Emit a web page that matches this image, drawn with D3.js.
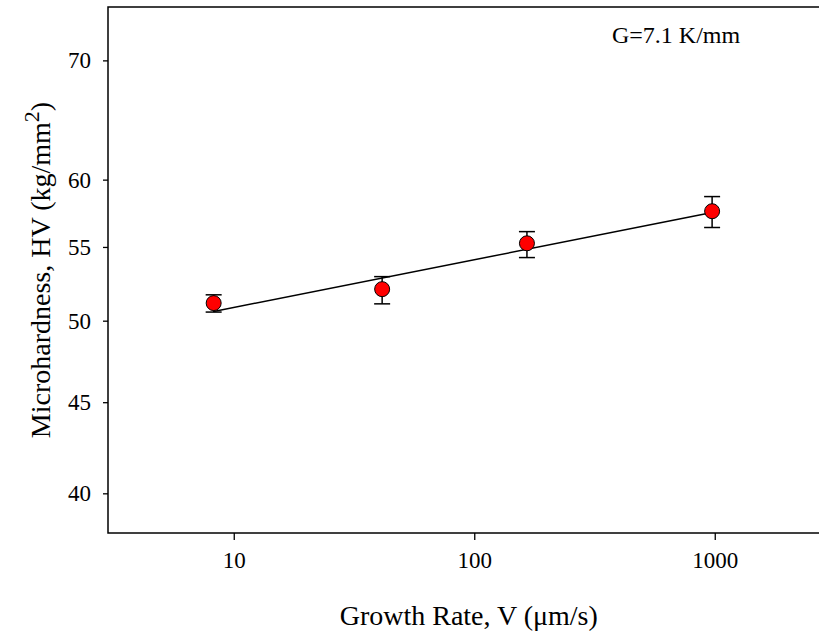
<!DOCTYPE html>
<html>
<head>
<meta charset="utf-8">
<script src="https://cdn.jsdelivr.net/npm/d3@7"></script>
<style>
  html, body { margin: 0; padding: 0; background: #fff; }
  svg { display: block; }
  text { font-family: "Liberation Serif", "Times New Roman", serif; fill: #000; }
</style>
</head>
<body>
<svg id="chart" width="819" height="635"></svg>
<script>
// ---- data ----
const growthRate = [8.25, 41.4, 165.6, 975];          // V (µm/s)
const hardness   = [51.15, 52.08, 55.26, 57.6];       // HV (kg/mm^2)
const errLow     = [50.56, 51.1, 54.25, 56.4];
const errHigh    = [51.7, 52.93, 56.1, 58.7];
const fitX       = [8.25, 975];
const fitY       = [50.6, 57.5];
const xTicks     = [10, 100, 1000];
const yTicks     = [40, 45, 50, 55, 60, 70];

const svg = d3.select("#chart");
const mLeft = 108, mTop = 7, mBottom = 533, mRight = 829.5;

const x = d3.scaleLog().domain([3, 3000]).range([mLeft, mRight]);
const y = d3.scaleLog().domain([38, 75]).range([mBottom, mTop]);

// frame (top, left, bottom; right edge lies outside the picture)
svg.append("rect").attr("x", mLeft).attr("y", mTop).attr("width", mRight - mLeft).attr("height", mBottom - mTop)
  .attr("stroke", "#000").attr("stroke-width", 1.5).attr("fill", "none");

// x axis
const xAxis = d3.axisBottom(x).tickValues(xTicks).tickFormat(d3.format("d")).tickSize(7).tickPadding(12);
const gx = svg.append("g").attr("transform", `translate(0,${mBottom})`).call(xAxis);
gx.select(".domain").remove();
gx.selectAll(".tick line").attr("stroke", "#000").attr("stroke-width", 1.3);
gx.selectAll(".tick text").attr("font-size", 23).attr("font-family", "Liberation Serif");

// y axis
const yAxis = d3.axisLeft(y).tickValues(yTicks).tickFormat(d3.format("d")).tickSize(5).tickPadding(12);
const gy = svg.append("g").attr("transform", `translate(${mLeft},0)`).call(yAxis);
gy.select(".domain").remove();
gy.selectAll(".tick line").attr("stroke", "#000").attr("stroke-width", 1.3);
gy.selectAll(".tick text").attr("font-size", 23).attr("font-family", "Liberation Serif");

// fit line
const line = d3.line().x((d, i) => x(fitX[i])).y((d, i) => y(fitY[i]));
svg.append("path").datum(fitX).attr("d", line)
  .attr("stroke", "#000").attr("stroke-width", 1.5).attr("fill", "none");

// error bars
const pts = growthRate.map((v, i) => ({ v, h: hardness[i], lo: errLow[i], hi: errHigh[i] }));
const eb = svg.append("g").attr("stroke", "#000").attr("stroke-width", 1.5);
const capW = 8;
pts.forEach(p => {
  eb.append("line").attr("x1", x(p.v)).attr("x2", x(p.v)).attr("y1", y(p.lo)).attr("y2", y(p.hi));
  eb.append("line").attr("x1", x(p.v) - capW).attr("x2", x(p.v) + capW).attr("y1", y(p.lo)).attr("y2", y(p.lo));
  eb.append("line").attr("x1", x(p.v) - capW).attr("x2", x(p.v) + capW).attr("y1", y(p.hi)).attr("y2", y(p.hi));
});

// markers
svg.append("g").selectAll("circle").data(pts).join("circle")
  .attr("cx", d => x(d.v)).attr("cy", d => y(d.h)).attr("r", 7.5)
  .attr("fill", "#ff0000").attr("stroke", "#000").attr("stroke-width", 1);

// annotation
svg.append("text").attr("x", 612).attr("y", 43).attr("font-size", 24).text("G=7.1 K/mm");

// axis titles
svg.append("text").attr("x", (mLeft + mRight) / 2).attr("y", 625).attr("text-anchor", "middle").attr("font-size", 28)
  .text("Growth Rate, V (\u03bcm/s)");

const yt = svg.append("text").attr("transform", `translate(50,${(mTop + mBottom) / 2}) rotate(-90)`)
  .attr("text-anchor", "middle").attr("font-size", 28);
yt.append("tspan").text("Microhardness, HV (kg/mm");
yt.append("tspan").attr("dy", -11).attr("font-size", 22).text("2");
yt.append("tspan").attr("dy", 11).text(")");
</script>
</body>
</html>
